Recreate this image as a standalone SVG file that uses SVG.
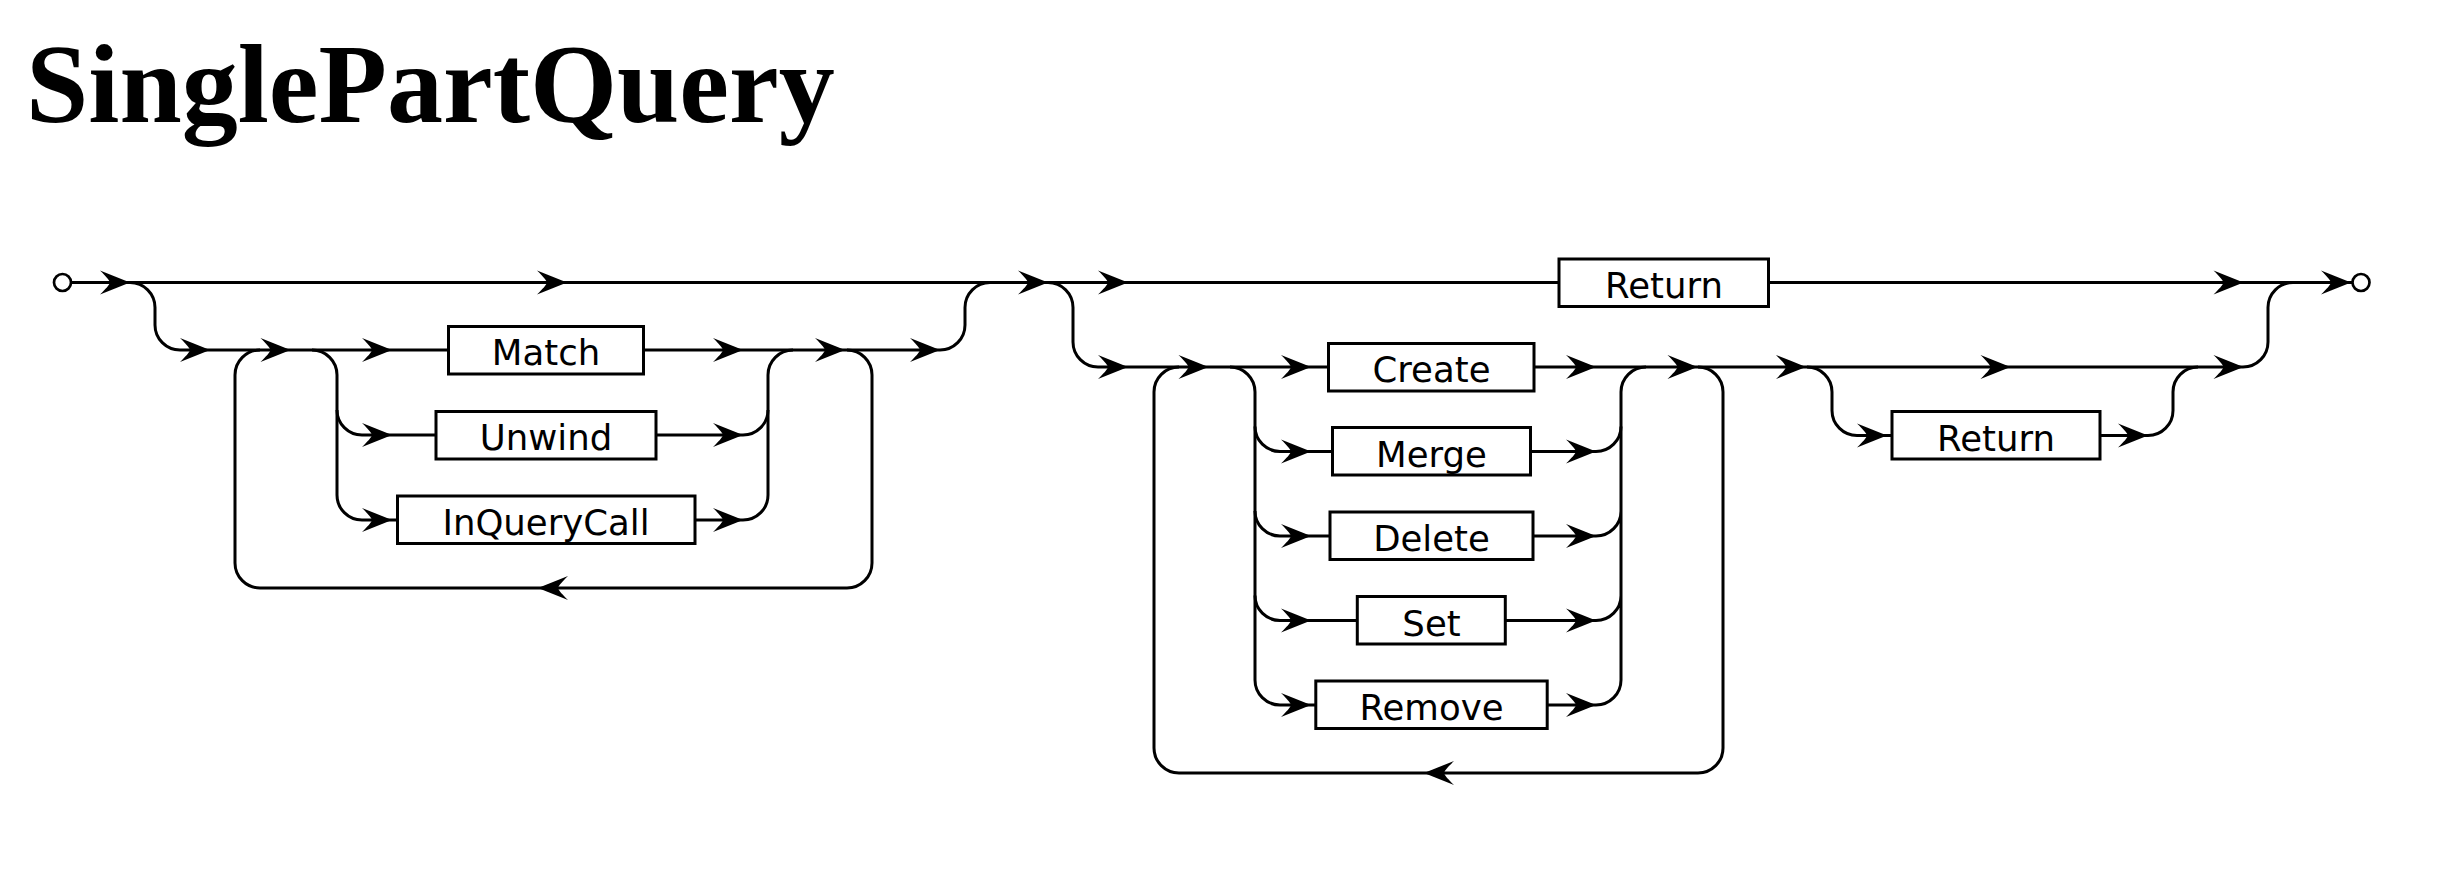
<svg xmlns="http://www.w3.org/2000/svg" xmlns:xlink="http://www.w3.org/1999/xlink" width="2438" height="870" viewBox="0 0 2438 870">
<style>
.ln{fill:none;stroke:#000;stroke-width:3}
.box{fill:#fff;stroke:#000;stroke-width:3}
.lbl{font-family:"DejaVu Sans","Liberation Sans",sans-serif;font-size:35.5px;text-anchor:middle;fill:#000}
.term{fill:#fff;stroke:#000;stroke-width:2.7}
.title{font-family:"Liberation Serif","Times New Roman",serif;font-weight:bold;font-size:112px;fill:#000}
</style>
<defs>
<path id="a" d="M0,0 C-10,-4 -20,-8 -30,-12 C-24,-6 -21,-3 -20,0 C-21,3 -24,6 -30,12 C-20,8 -10,4 0,0 Z" fill="#000"/>
</defs>
<rect width="2438" height="870" fill="#fff"/>
<text class="title" x="26" y="122">SinglePartQuery</text>

<g id="connectors">
<!-- main top line -->
<path class="ln" d="M71,282.5 H1559 M1770,282.5 H2352.5"/>
<!-- left optional lower path -->
<path class="ln" d="M130,282.5 A25,25 0 0 1 155,307.5 V325 A25,25 0 0 0 180,350 H448"/>
<path class="ln" d="M645,350 H940 A25,25 0 0 0 965,325 V307.5 A25,25 0 0 1 990,282.5"/>
<!-- left loop -->
<path class="ln" d="M260,350 A25,25 0 0 0 235,375 V563 A25,25 0 0 0 260,588 H847 A25,25 0 0 0 872,563 V375 A25,25 0 0 0 847,350"/>
<!-- left choice split -->
<path class="ln" d="M312,350 A25,25 0 0 1 337,375 V495 A25,25 0 0 0 362,520 H397"/>
<path class="ln" d="M337,410 A25,25 0 0 0 362,435 H436"/>
<!-- left choice merge -->
<path class="ln" d="M657,435 H743 A25,25 0 0 0 768,410 V375 A25,25 0 0 1 793,350"/>
<path class="ln" d="M696,520 H743 A25,25 0 0 0 768,495 V410"/>
<!-- right choice split -->
<path class="ln" d="M1048,282.5 A25,25 0 0 1 1073,307.5 V342 A25,25 0 0 0 1098,367 H1328"/>
<!-- right loop -->
<path class="ln" d="M1179,367 A25,25 0 0 0 1154,392 V748 A25,25 0 0 0 1179,773 H1698 A25,25 0 0 0 1723,748 V392 A25,25 0 0 0 1698,367"/>
<!-- right inner choice split -->
<path class="ln" d="M1230,367 A25,25 0 0 1 1255,392 V680 A25,25 0 0 0 1280,705 H1316"/>
<path class="ln" d="M1255,426.5 A25,25 0 0 0 1280,451.5 H1332 M1255,511 A25,25 0 0 0 1280,536 H1330 M1255,595.5 A25,25 0 0 0 1280,620.5 H1357"/>
<!-- right inner choice merge -->
<path class="ln" d="M1534,367 H2243 A25,25 0 0 0 2268,342 V307.5 A25,25 0 0 1 2293,282.5"/>
<path class="ln" d="M1531,451.5 H1596 A25,25 0 0 0 1621,426.5 V392 A25,25 0 0 1 1646,367"/>
<path class="ln" d="M1533,536 H1596 A25,25 0 0 0 1621,511 M1506,620.5 H1596 A25,25 0 0 0 1621,595.5 M1547,705 H1596 A25,25 0 0 0 1621,680 V426.5"/>
<!-- optional return -->
<path class="ln" d="M1807,367 A25,25 0 0 1 1832,392 V410.5 A25,25 0 0 0 1857,435.5 H1892"/>
<path class="ln" d="M2100,435.5 H2148 A25,25 0 0 0 2173,410.5 V392 A25,25 0 0 1 2198,367"/>
<!-- arrowheads -->
<use xlink:href="#a" x="130" y="282.5"/>
<use xlink:href="#a" x="567" y="282.5"/>
<use xlink:href="#a" x="1048" y="282.5"/>
<use xlink:href="#a" x="1128" y="282.5"/>
<use xlink:href="#a" x="2243.5" y="282.5"/>
<use xlink:href="#a" x="2351" y="282.5"/>
<use xlink:href="#a" x="210" y="350"/>
<use xlink:href="#a" x="290.5" y="350"/>
<use xlink:href="#a" x="392" y="350"/>
<use xlink:href="#a" x="392" y="435"/>
<use xlink:href="#a" x="392" y="520"/>
<use xlink:href="#a" x="743" y="350"/>
<use xlink:href="#a" x="743" y="435"/>
<use xlink:href="#a" x="743" y="520"/>
<use xlink:href="#a" x="845" y="350"/>
<use xlink:href="#a" x="940" y="350"/>
<use xlink:href="#a" transform="translate(538,588) scale(-1,1)"/>
<use xlink:href="#a" x="1128" y="367"/>
<use xlink:href="#a" x="1208.5" y="367"/>
<use xlink:href="#a" x="1311" y="367"/>
<use xlink:href="#a" x="1311" y="451.5"/>
<use xlink:href="#a" x="1311" y="536"/>
<use xlink:href="#a" x="1311" y="620.5"/>
<use xlink:href="#a" x="1311" y="705"/>
<use xlink:href="#a" x="1596" y="367"/>
<use xlink:href="#a" x="1596" y="451.5"/>
<use xlink:href="#a" x="1596" y="536"/>
<use xlink:href="#a" x="1596" y="620.5"/>
<use xlink:href="#a" x="1596" y="705"/>
<use xlink:href="#a" x="1697.5" y="367"/>
<use xlink:href="#a" transform="translate(1424,773) scale(-1,1)"/>
<use xlink:href="#a" x="1806" y="367"/>
<use xlink:href="#a" x="2010.5" y="367"/>
<use xlink:href="#a" x="2243.5" y="367"/>
<use xlink:href="#a" x="1887" y="435.5"/>
<use xlink:href="#a" x="2148" y="435.5"/>
</g>

<g id="start"><circle class="term" cx="62.5" cy="282.5" r="8.5"/></g>
<g id="end"><circle class="term" cx="2361" cy="282.5" r="8.5"/></g>

<g id="node-match"><rect class="box" x="448.5" y="326.5" width="195" height="47.5"/><text class="lbl" x="546" y="365">Match</text></g>
<g id="node-unwind"><rect class="box" x="436" y="411.5" width="220" height="47.5"/><text class="lbl" x="546" y="450">Unwind</text></g>
<g id="node-inquerycall"><rect class="box" x="397.5" y="496" width="297.5" height="47.5"/><text class="lbl" x="546" y="535">InQueryCall</text></g>

<g id="node-return-top"><rect class="box" x="1559" y="259" width="209.5" height="47.5"/><text class="lbl" x="1664" y="297.5">Return</text></g>

<g id="node-create"><rect class="box" x="1328.5" y="343.5" width="205.5" height="47.5"/><text class="lbl" x="1431.5" y="382">Create</text></g>
<g id="node-merge"><rect class="box" x="1332.5" y="427.5" width="198" height="47.5"/><text class="lbl" x="1431.5" y="466.5">Merge</text></g>
<g id="node-delete"><rect class="box" x="1330" y="512" width="203" height="47.5"/><text class="lbl" x="1431.5" y="551">Delete</text></g>
<g id="node-set"><rect class="box" x="1357.3" y="596.5" width="148" height="47.5"/><text class="lbl" x="1431.5" y="635.5">Set</text></g>
<g id="node-remove"><rect class="box" x="1315.8" y="681" width="231.4" height="47.5"/><text class="lbl" x="1431.5" y="720">Remove</text></g>

<g id="node-return-opt"><rect class="box" x="1892" y="411.5" width="208" height="47.5"/><text class="lbl" x="1996" y="450.5">Return</text></g>
</svg>
